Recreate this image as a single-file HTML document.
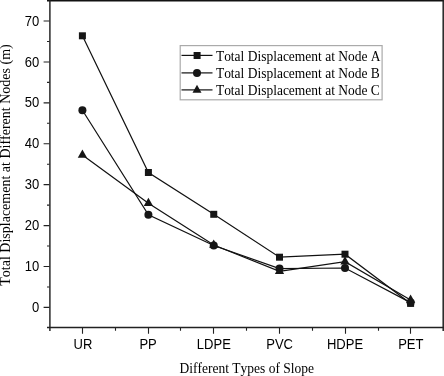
<!DOCTYPE html>
<html><head><meta charset="utf-8">
<style>
html,body{margin:0;padding:0;background:#fff;}
body{width:444px;height:376px;overflow:hidden;}
svg{display:block;will-change:transform;}
.tl{font-family:"Liberation Sans",sans-serif;font-size:14px;fill:#000;}
.tt{font-family:"Liberation Serif",serif;font-size:14px;fill:#000;font-kerning:none;}
</style></head><body>
<svg width="444" height="376" viewBox="0 0 444 376">
<rect x="0" y="0" width="444" height="376" fill="#fff"/>
<!-- frame -->
<g stroke="#222" fill="none">
<line x1="47" y1="0.6" x2="444" y2="0.6" stroke-width="1.6" stroke="#111"/>
<line x1="49.9" y1="0" x2="49.9" y2="331" stroke-width="1.45"/>
<line x1="47" y1="327.5" x2="444" y2="327.5" stroke-width="1.45"/>
<line x1="443.2" y1="0" x2="443.2" y2="331" stroke-width="1.5"/>
</g>
<!-- y ticks -->
<g stroke="#222" stroke-width="1.1" fill="none">
<path d="M43.6 307.40H49.5M43.6 266.49H49.5M43.6 225.58H49.5M43.6 184.67H49.5M43.6 143.76H49.5M43.6 102.85H49.5M43.6 61.94H49.5M43.6 21.03H49.5"/>
<path d="M47 286.94H49.5M47 246.03H49.5M47 205.12H49.5M47 164.21H49.5M47 123.30H49.5M47 82.39H49.5M47 41.48H49.5"/>
<path d="M82.5 328V333.8M148.5 328V333.8M213.5 328V333.8M279.5 328V333.8M345.5 328V333.8M410.5 328V333.8"/>
<path d="M115.5 328V330.8M180.5 328V330.8M246.5 328V330.8M312.5 328V330.8M378.5 328V330.8"/>
</g>
<!-- y labels -->
<g class="tl" text-anchor="end">
<text transform="translate(39.3 25.63) scale(0.93 1)">70</text>
<text transform="translate(39.3 66.54) scale(0.93 1)">60</text>
<text transform="translate(39.3 107.45) scale(0.93 1)">50</text>
<text transform="translate(39.3 148.36) scale(0.93 1)">40</text>
<text transform="translate(39.3 189.27) scale(0.93 1)">30</text>
<text transform="translate(39.3 230.18) scale(0.93 1)">20</text>
<text transform="translate(39.3 271.09) scale(0.93 1)">10</text>
<text transform="translate(39.3 312.00) scale(0.93 1)">0</text>
</g>
<!-- x labels -->
<g class="tl" text-anchor="middle">
<text transform="translate(83.0 349.4) scale(0.93 1)">UR</text>
<text transform="translate(148.1 349.4) scale(0.93 1)">PP</text>
<text transform="translate(213.85 349.4) scale(0.93 1)">LDPE</text>
<text transform="translate(279.6 349.4) scale(0.93 1)">PVC</text>
<text transform="translate(345.0 349.4) scale(0.93 1)">HDPE</text>
<text transform="translate(410.8 349.4) scale(0.93 1)">PET</text>
</g>
<!-- titles -->
<text class="tt" transform="translate(246.75 373.1) scale(0.965 1)" text-anchor="middle">Different Types of Slope</text>
<text class="tt" transform="translate(9.7 165) rotate(-90)" text-anchor="middle">Total Displacement at Different Nodes (m)</text>
<!-- data lines -->
<g stroke="#111" stroke-width="1.2" fill="none">
<polyline points="82.4,35.8 148.4,172.5 213.75,214.3 279.5,257.2 345.0,254.2 410.6,303.4"/>
<polyline points="82.4,110.2 148.4,214.7 213.75,245.5 279.5,268.6 345.0,268.0 410.6,302.6"/>
<polyline points="82.4,155.0 148.4,203.3 213.75,245.0 279.5,271.3 345.0,261.7 410.6,300.0"/>
</g>
<!-- markers -->
<g fill="#161616">
<rect x="78.90" y="32.30" width="7" height="7"/>
<rect x="144.90" y="169.00" width="7" height="7"/>
<rect x="210.25" y="210.80" width="7" height="7"/>
<rect x="276.00" y="253.70" width="7" height="7"/>
<rect x="341.50" y="250.70" width="7" height="7"/>
<rect x="407.10" y="299.90" width="7" height="7"/>
<circle cx="82.4" cy="110.2" r="4"/>
<circle cx="148.4" cy="214.7" r="4"/>
<circle cx="213.75" cy="245.5" r="4"/>
<circle cx="279.5" cy="268.6" r="4"/>
<circle cx="345.0" cy="268.0" r="4"/>
<circle cx="410.6" cy="302.6" r="4"/>
<path d="M82.4 149.50l4.65 8.3h-9.3z"/>
<path d="M148.4 197.80l4.65 8.3h-9.3z"/>
<path d="M213.75 239.50l4.65 8.3h-9.3z"/>
<path d="M279.5 265.80l4.65 8.3h-9.3z"/>
<path d="M345.0 256.20l4.65 8.3h-9.3z"/>
<path d="M410.6 294.50l4.65 8.3h-9.3z"/>
</g>
<!-- legend -->
<rect x="180.2" y="45.6" width="201.9" height="54.2" fill="#fff" stroke="#aaa" stroke-width="1.2"/>
<g stroke="#111" stroke-width="1.2">
<line x1="181.5" y1="55.4" x2="212.5" y2="55.4"/>
<line x1="181.5" y1="72.9" x2="212.5" y2="72.9"/>
<line x1="181.5" y1="89.9" x2="212.5" y2="89.9"/>
</g>
<g fill="#161616">
<rect x="193.6" y="52" width="7" height="7"/>
<circle cx="197" cy="72.9" r="4"/>
<path d="M197 84.7l4.5 8h-9z"/>
</g>
<g class="tt">
<text transform="translate(215.9 60.6) scale(0.963 1)">Total Displacement at Node A</text>
<text transform="translate(215.9 77.8) scale(0.963 1)">Total Displacement at Node B</text>
<text transform="translate(215.9 94.7) scale(0.963 1)">Total Displacement at Node C</text>
</g>
</svg>
</body></html>
